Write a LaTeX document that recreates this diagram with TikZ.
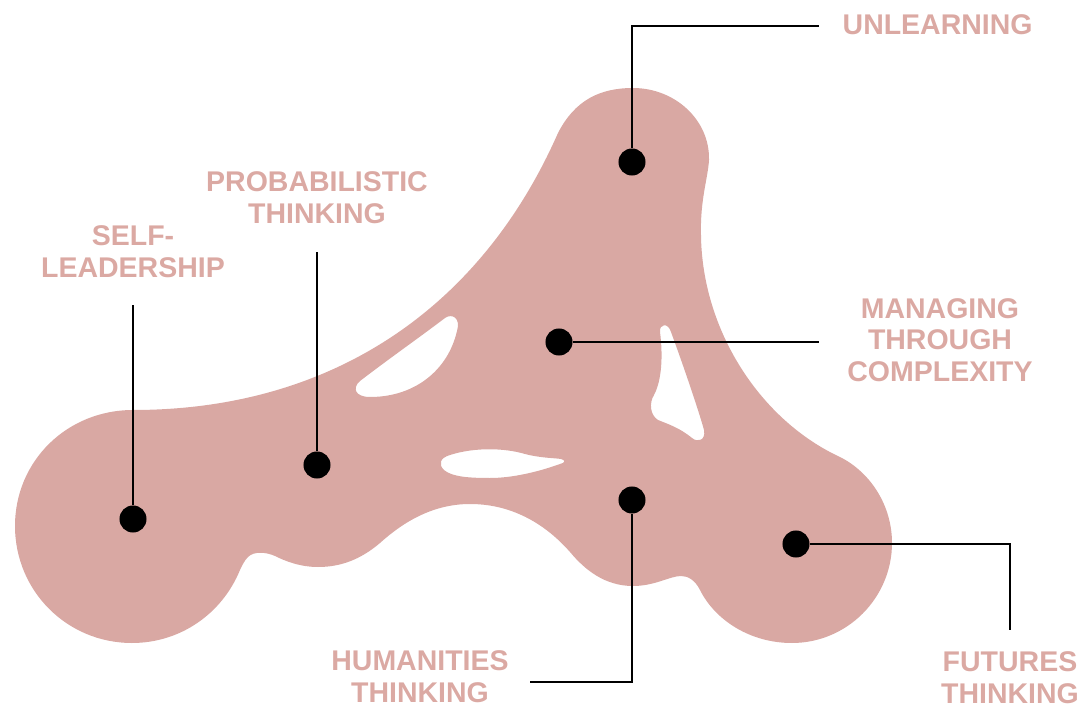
\documentclass[tikz,border=0pt]{standalone}
\usepackage{fontspec}
\setmainfont{Liberation Sans}
\usetikzlibrary{positioning}
\definecolor{blush}{RGB}{217,168,163}
\definecolor{blushtext}{RGB}{219,169,163}

\begin{document}
\begin{tikzpicture}[
    x=0.01cm, y=-0.01cm,
    hub/.style={circle, fill=black, minimum size=0.27cm, inner sep=0},
    skill/.style={text=blushtext, align=center, inner sep=0, font=\bfseries\fontsize{8.1}{9}\selectfont},
    leader/.style={black, line width=0.6pt}
]
  \useasboundingbox (0,0) rectangle (1084,706);

  % Blob with its three holes
  \fill[blush, even odd rule]
    (133,410) .. controls (330,410) and (480,310) .. (558,133)
    .. controls (575,100) and (600,88) .. (633,88)
    .. controls (675,88) and (710,120) .. (709,160)
    .. controls (708,178) and (700,200) .. (701,235)
    .. controls (702,330) and (760,420) .. (840,457)
    .. controls (870,472) and (892,505) .. (892,543)
    .. controls (892,598) and (847,643) .. (792,643)
    .. controls (750,643) and (715,620) .. (700,590)
    .. controls (695,580) and (688,576) .. (681,576)
    .. controls (670,576) and (655,586) .. (633,586)
    .. controls (605,586) and (585,570) .. (570,552)
    .. controls (540,518) and (505,504) .. (470,504)
    .. controls (430,504) and (400,525) .. (380,543)
    .. controls (360,560) and (340,567) .. (318,567)
    .. controls (300,567) and (285,561) .. (275,556)
    .. controls (266,552) and (254,551) .. (248,557)
    .. controls (244,561) and (242,566) .. (240,570)
    .. controls (222,614) and (180,643) .. (132,643)
    .. controls (67,643) and (15,591) .. (15,526)
    .. controls (15,461) and (67,410) .. (133,410) -- cycle
    (360,381) .. controls (390,358) and (420,337) .. (445,318)
    .. controls (452,313) and (461,318) .. (457,331)
    .. controls (448,370) and (415,397) .. (370,397)
    .. controls (355,397) and (352,388) .. (360,381) -- cycle
    (444,470) .. controls (438,464) and (440,458) .. (450,455)
    .. controls (475,447) and (505,448) .. (525,454)
    .. controls (540,458) and (555,458) .. (561,459)
    .. controls (566,460) and (565,463) .. (560,464)
    .. controls (535,473) and (510,478) .. (490,478)
    .. controls (470,478) and (452,477) .. (444,470) -- cycle
    (660,332) .. controls (659,324) and (668,322) .. (671,332)
    .. controls (685,370) and (700,415) .. (704,430)
    .. controls (706,440) and (698,443) .. (692,438)
    .. controls (680,428) and (668,424) .. (658,420)
    .. controls (650,415) and (649,403) .. (654,395)
    .. controls (662,380) and (663,355) .. (660,332) -- cycle;

  % Dots
  \node[hub] (self) at (133,519) {};
  \node[hub] (prob) at (317,465) {};
  \node[hub] (unlearn) at (632,162) {};
  \node[hub] (manage) at (559,342) {};
  \node[hub] (human) at (632,500) {};
  \node[hub] (future) at (796,544) {};

  % Labels
  \node[skill] (self-lbl) at (133,252) {SELF-\\LEADERSHIP};
  \node[skill] (prob-lbl) at (317,198) {PROBABILISTIC\\THINKING};
  \node[skill, anchor=west] (unlearn-lbl) at (842,25) {UNLEARNING};
  \node[skill] (manage-lbl) at (940,340) {MANAGING\\THROUGH\\COMPLEXITY};
  \node[skill] (human-lbl) at (420,677) {HUMANITIES\\THINKING};
  \node[skill] (future-lbl) at (1010,678) {FUTURES\\THINKING};

  % Leader lines
  \coordinate (self-end) at (133,305);
  \coordinate (prob-end) at (317,252);
  \coordinate (unlearn-end) at (819,26);
  \coordinate (manage-end) at (819,342);
  \coordinate (human-end) at (530,682);
  \coordinate (future-end) at (1010,630);
  \draw[leader] (self) -- (self-end);
  \draw[leader] (prob) -- (prob-end);
  \draw[leader] (unlearn) |- (unlearn-end);
  \draw[leader] (manage) -- (manage-end);
  \draw[leader] (human) |- (human-end);
  \draw[leader] (future) -| (future-end);
\end{tikzpicture}
\end{document}
